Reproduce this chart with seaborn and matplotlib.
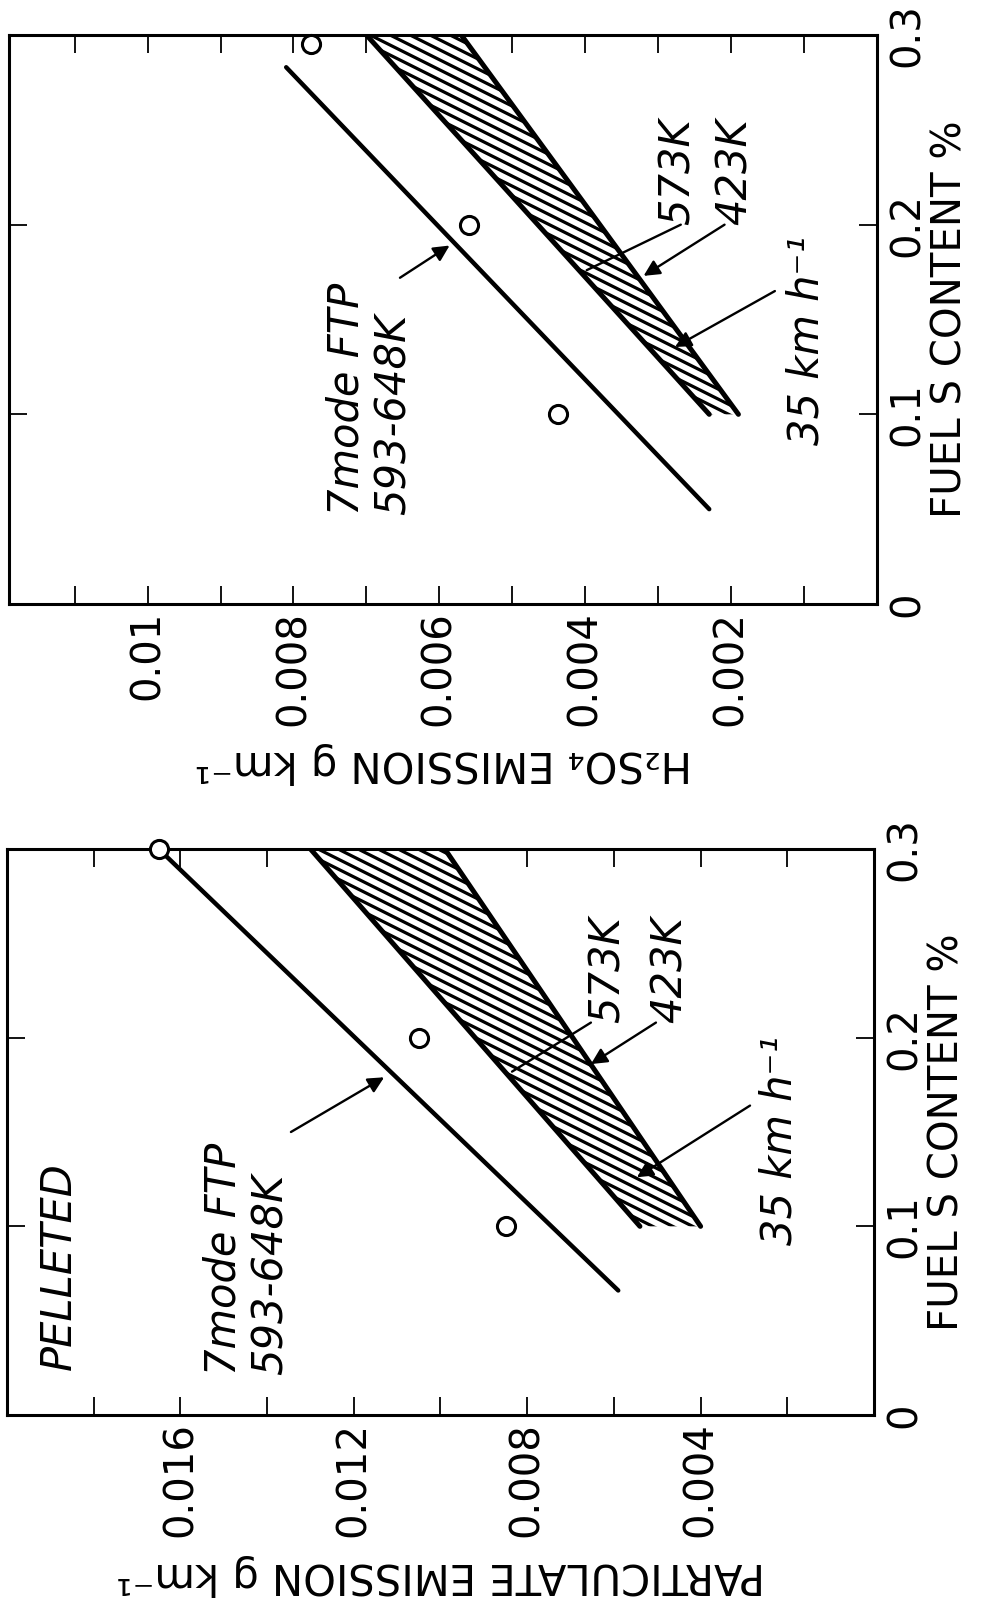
import warnings
import numpy as np
import matplotlib
matplotlib.use("Agg")
import matplotlib.pyplot as plt
import matplotlib.hatch as mhatch
from matplotlib.path import Path
import seaborn as sns

warnings.filterwarnings("ignore")

# ---------------- data ----------------
fuel_ticks = [0, 0.1, 0.2, 0.3]
fuel_ticklabels = ["0", "0.1", "0.2", "0.3"]

# Particulate panel
part_obs_fuel = [0.1, 0.2, 0.3]
part_obs = [0.0085, 0.0105, 0.0165]
part_ftp_fuel = [0.066, 0.3]
part_ftp = [0.0059, 0.0165]
part_band_fuel = [0.1, 0.3]
part_573 = [0.0054, 0.0130]
part_423 = [0.0040, 0.0099]
part_ticks = [0.002, 0.004, 0.006, 0.008, 0.010, 0.012, 0.014, 0.016, 0.018]
part_ticklabels = ["", "0.004", "", "0.008", "", "0.012", "", "0.016", ""]

# H2SO4 panel
h2so4_obs_fuel = [0.1, 0.2, 0.295]
h2so4_obs = [0.00437, 0.00559, 0.00776]
h2so4_ftp_fuel = [0.05, 0.283]
h2so4_ftp = [0.0023, 0.0081]
h2so4_band_fuel = [0.1, 0.3]
h2so4_573 = [0.0023, 0.0070]
h2so4_423 = [0.0019, 0.0057]
h2so4_ticks = [0.001, 0.002, 0.003, 0.004, 0.005, 0.006, 0.007, 0.008, 0.009, 0.010, 0.011]
h2so4_ticklabels = ["", "0.002", "", "0.004", "", "0.006", "", "0.008", "", "0.01", ""]


# ------------- shallow diagonal hatch (lines sloping down at ~27 deg) -------------
class ShallowHatch(mhatch.HatchPatternBase):
    STEP = 0.1

    def __init__(self, hatch, density):
        self.num_lines = 26 if "z" in hatch else 0
        self.num_vertices = self.num_lines * 2

    def set_vertices_and_codes(self, vertices, codes):
        cs = -0.5 + self.STEP * np.arange(self.num_lines)
        x0, x1 = -0.5, 1.5
        vertices[0::2, 0] = x0
        vertices[0::2, 1] = cs - x0 / 2
        vertices[1::2, 0] = x1
        vertices[1::2, 1] = cs - x1 / 2
        codes[0::2] = Path.MOVETO
        codes[1::2] = Path.LINETO


mhatch._hatch_types.append(ShallowHatch)

# ---------------- style ----------------
sns.set_theme(style="white")
plt.rcParams["font.family"] = ["DejaVu Sans"]
plt.rcParams["hatch.linewidth"] = 2.3
plt.rcParams["hatch.color"] = "black"

fig = plt.figure(figsize=(9.81, 16.13), dpi=100)
ax_top = fig.add_axes([9 / 981, (1613 - 604) / 1613, 868 / 981, 569 / 1613])
ax_bot = fig.add_axes([7 / 981, (1613 - 1415) / 1613, 867 / 981, 566 / 1613])

TICK_FS = 29
LABEL_FS = 29
ANN_FS = 30


def draw_panel(ax, obs_fuel, obs, ftp_fuel, ftp, band_fuel, e573, e423,
               xmax, ticks, ticklabels, xlabel, ylab_x):
    ax.fill_betweenx(band_fuel, e423, e573, facecolor="white",
                     edgecolor="black", hatch="z", linewidth=0, zorder=2)
    for ev in (e573, e423):
        sns.lineplot(x=ev, y=band_fuel, sort=False, estimator=None, ax=ax,
                     color="black", lw=3.6, solid_capstyle="round", zorder=3)
    sns.lineplot(x=ftp, y=ftp_fuel, sort=False, estimator=None, ax=ax,
                 color="black", lw=3.2, solid_capstyle="round", zorder=3)
    sns.scatterplot(x=obs, y=obs_fuel, ax=ax, marker="o", s=170,
                    facecolor="white", edgecolor="black", linewidth=2.2,
                    zorder=5, clip_on=False)

    ax.set_xlim(xmax, 0)
    ax.set_ylim(0, 0.3)
    ax.set_xticks(ticks)
    ax.set_xticklabels(ticklabels, rotation=90, va="top", fontsize=TICK_FS)
    ax.set_yticks(fuel_ticks)
    ax.set_yticklabels(fuel_ticklabels, rotation=90, va="center", fontsize=TICK_FS)
    ax.tick_params(axis="both", direction="in", length=13, width=1.3,
                   top=True, bottom=True, left=True, right=True,
                   labelleft=False, labelright=True, colors="black")
    ax.tick_params(axis="x", pad=5)
    ax.tick_params(axis="y", pad=8)
    for sp in ax.spines.values():
        sp.set_linewidth(2.2)
        sp.set_color("black")
        sp.set_visible(True)
    ax.set_xlabel(xlabel, rotation=180, fontsize=LABEL_FS + 1, labelpad=12,
                  color="black")
    ax.yaxis.set_label_position("right")
    ax.set_ylabel("FUEL S CONTENT %", fontsize=LABEL_FS, color="black")
    ax.yaxis.set_label_coords(ylab_x, 0.5)


def label(ax, x, y, s):
    ax.text(x, y, s, rotation=90, ha="center", va="bottom", fontsize=ANN_FS,
            fontstyle="italic", color="black", multialignment="left",
            linespacing=1.15)


def arrow(ax, start, tip, head=True):
    ax.annotate("", xy=tip, xytext=start,
                arrowprops=dict(arrowstyle="-|>" if head else "-", color="black",
                                lw=1.7, mutation_scale=24, shrinkA=0, shrinkB=0))


# ---- bottom: particulate ----
draw_panel(ax_bot, part_obs_fuel, part_obs, part_ftp_fuel, part_ftp,
           part_band_fuel, part_573, part_423, 0.02, part_ticks,
           part_ticklabels, "PARTICULATE EMISSION g km\u207b\u00b9",
           (928 - 7) / 867)
label(ax_bot, 0.0188, 0.024, "PELLETED")
label(ax_bot, 0.01446, 0.021, "7mode FTP\n593-648K")
label(ax_bot, 0.00614, 0.208, "573K")
label(ax_bot, 0.00471, 0.208, "423K")
label(ax_bot, 0.00217, 0.090, "35 km h\u207b\u00b9")
arrow(ax_bot, (0.01345, 0.150), (0.0113, 0.179))
arrow(ax_bot, (0.00653, 0.208), (0.00835, 0.182), head=False)
arrow(ax_bot, (0.00503, 0.208), (0.00653, 0.186))
arrow(ax_bot, (0.00286, 0.164), (0.00547, 0.126))

# ---- top: H2SO4 ----
draw_panel(ax_top, h2so4_obs_fuel, h2so4_obs, h2so4_ftp_fuel, h2so4_ftp,
           h2so4_band_fuel, h2so4_573, h2so4_423, 0.0119, h2so4_ticks,
           h2so4_ticklabels, "H\u2082SO\u2084 EMISSION g km\u207b\u00b9",
           (930 - 9) / 868)
label(ax_top, 0.00695, 0.047, "7mode FTP\n593-648K")
label(ax_top, 0.00273, 0.200, "573K")
label(ax_top, 0.00195, 0.200, "423K")
label(ax_top, 0.00097, 0.084, "35 km h\u207b\u00b9")
arrow(ax_top, (0.00654, 0.172), (0.00586, 0.189))
arrow(ax_top, (0.00269, 0.200), (0.00398, 0.176), head=False)
arrow(ax_top, (0.00209, 0.200), (0.0032, 0.173))
arrow(ax_top, (0.0014, 0.165), (0.00277, 0.1355))

fig.savefig("out.png", dpi=100, facecolor="white")
